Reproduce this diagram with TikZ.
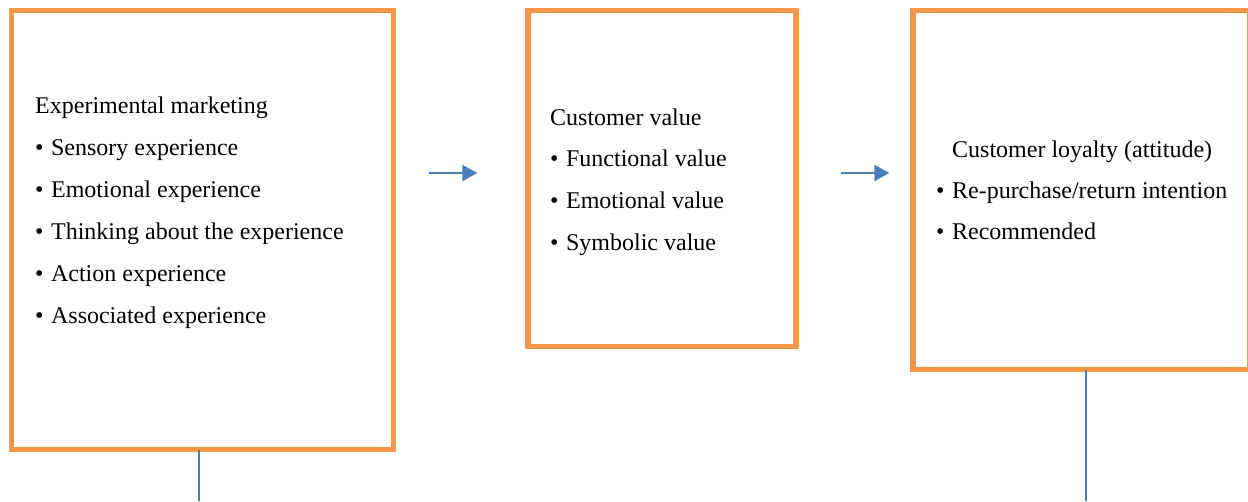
\documentclass[tikz,border=0pt]{standalone}
\usepackage{fontspec}
\setmainfont{Liberation Serif}
\usetikzlibrary{arrows.meta,positioning,calc}
\definecolor{frameOrange}{HTML}{F79646}
\definecolor{linkBlue}{HTML}{4A7EBB}
\newcommand{\bul}{\textbullet\hspace{7.5pt}}
\tikzset{
  frame/.style={
    rectangle, draw=frameOrange, line width=5.3pt,
    inner sep=0pt, outer sep=0pt
  },
  item/.style={anchor=base west, inner sep=0pt, font=\fontsize{24}{28}\selectfont},
  flow/.style={-{Triangle[length=15pt,width=16pt]}, draw=linkBlue, line width=2.2pt},
  link/.style={draw=linkBlue, line width=2.3pt}
}

\begin{document}
\begin{tikzpicture}[x=1pt,y=-1pt]
  \useasboundingbox (0,0) rectangle (1248,501);
  % the three frames
  \node[frame, minimum width=382pt, minimum height=439pt] (lbox) at (202.6,230.1) {};
  \node[frame, minimum width=268pt, minimum height=336pt] (mbox) at (662,178.7) {};
  \node[frame, minimum width=337pt, minimum height=359pt] (rbox) at (1081.5,190.1) {};

  % left frame: experimental marketing
  \foreach \k/\txt in {0/{Experimental marketing},
                       1/{\bul Sensory experience},
                       2/{\bul Emotional experience},
                       3/{\bul Thinking about the experience},
                       4/{\bul Action experience},
                       5/{\bul Associated experience}}
  {
    \node[item] (lt\k) at (35,113+42*\k) {\txt};
  }
  % middle frame: customer value
  \foreach \k/\txt in {0/{Customer value},
                       1/{\bul Functional value},
                       2/{\bul Emotional value},
                       3/{\bul Symbolic value}}
  {
    \node[item] (mt\k) at (550,125+41.7*\k) {\txt};
  }
  % right frame: customer loyalty
  \node[item] (rt0) at (952,157.5) {Customer loyalty (attitude)};
  \node[item] (rt1) at (936,198) {\bul Re-purchase/return intention};
  \node[item] (rt2) at (936,239.5) {\bul Recommended};

  % arrows between frames
  \coordinate (row) at (0,173);
  \draw[flow, shorten <=35.3pt, shorten >=50.7pt] (lbox.east |- row) -- (mbox.west |- row);
  \draw[flow, shorten <=45pt, shorten >=23.7pt] (mbox.east |- row) -- (rbox.west |- row);

  % lines leaving at the bottom
  \coordinate (lfoot) at (199,501);
  \coordinate (rfoot) at (1086,501);
  \draw[link] (lbox.south -| lfoot) -- (lfoot);
  \draw[link] (rbox.south -| rfoot) -- (rfoot);
\end{tikzpicture}
\end{document}
